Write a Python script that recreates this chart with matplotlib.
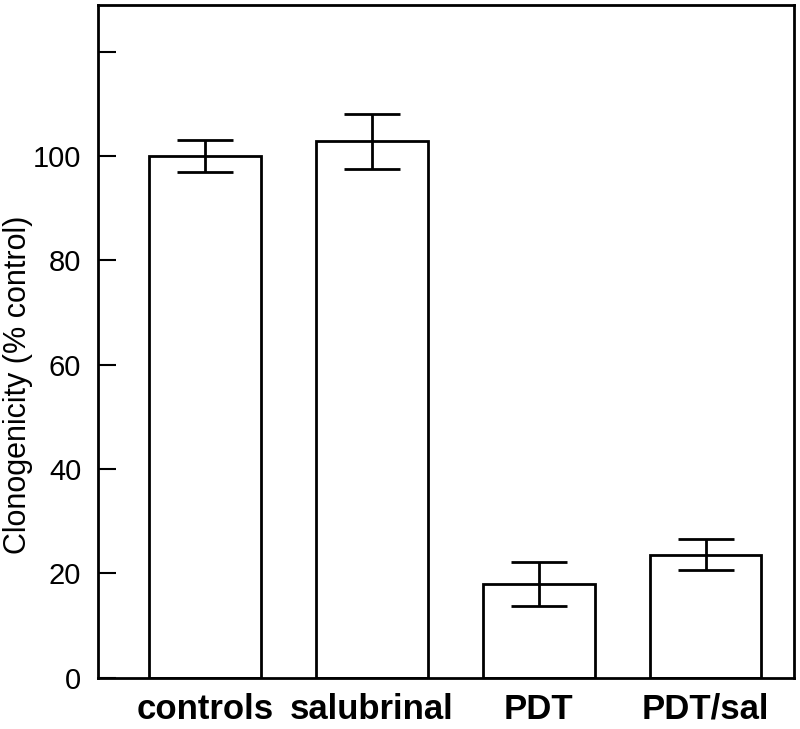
import numpy as np
import matplotlib
matplotlib.use("Agg")
import matplotlib.pyplot as plt

plt.rcParams['font.family'] = ['Liberation Sans', 'DejaVu Sans']

# data
groups = ["controls", "salubrinal", "PDT", "PDT/sal"]
means = [100.0, 102.8, 17.9, 23.6]
errors = [3.0, 5.3, 4.2, 3.05]
ytick_values = [0, 20, 40, 60, 80, 100, 120]
ytick_labels = ["0", "20", "40", "60", "80", "100", ""]

fig = plt.figure(figsize=(8, 7.29), dpi=100)
ax = fig.add_axes([0.1225, 0.0704, 0.87, 0.9232])

x = np.arange(len(groups))
ax.bar(x, means, width=0.67, color="white", edgecolor="black", linewidth=2.0, zorder=2)
ax.errorbar(x, means, yerr=errors, fmt="none", ecolor="black", elinewidth=2.0,
            capsize=20, capthick=2.0, zorder=3)

ax.set_xlim(-0.64, 3.53)
ax.set_ylim(0, 129)

for s in ax.spines.values():
    s.set_linewidth(2.0)

ax.set_yticks(ytick_values)
ax.set_yticklabels(ytick_labels, fontsize=21)
ax.tick_params(axis="y", direction="in", length=13, width=1.5, pad=12)

ax.set_xticks(x)
ax.set_xticklabels(groups, fontsize=25, fontweight="bold")
ax.tick_params(axis="x", length=0, pad=11)

ax.set_ylabel("Clonogenicity (% control)", fontsize=22)
ax.yaxis.set_label_coords(-0.094, 0.435)

fig.savefig("out.png", dpi=100)
